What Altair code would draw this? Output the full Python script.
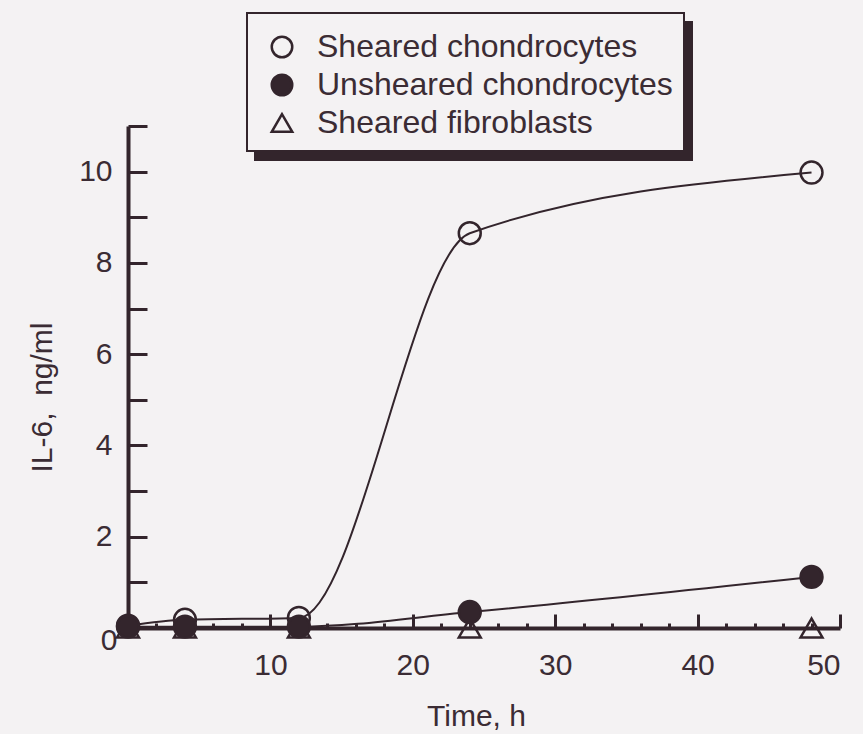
import altair as alt
import pandas as pd

# ---- data ----
time_h = [0, 4, 12, 24, 48]
sheared_chondro = [0.05, 0.18, 0.22, 8.65, 9.98]
unsheared_chondro = [0.03, 0.03, 0.03, 0.35, 1.12]
sheared_fibro = [0.0, 0.0, 0.0, 0.0, 0.0]
series_names = ["Sheared chondrocytes", "Unsheared chondrocytes", "Sheared fibroblasts"]
x_label_values = [10, 20, 30, 40, 50]
x_tick_values = [2, 4, 6, 8, 10, 12, 14, 16, 18, 20, 22, 24, 26, 28, 30,
                 32, 34, 36, 38, 40, 42, 44, 46, 48, 50]
y_label_values = [0, 2, 4, 6, 8, 10]
y_tick_values = [1, 2, 3, 4, 5, 6, 7, 8, 9, 10, 11]

rows = []
for name, vals in [(series_names[2], sheared_fibro),
                   (series_names[0], sheared_chondro),
                   (series_names[1], unsheared_chondro)]:
    for t, v in zip(time_h, vals):
        rows.append({"time": t, "il6": v, "series": name})
df = pd.DataFrame(rows)

BG = "#f4f2f3"
INK = "#33252c"
TXT = "#3b2c34"
F = "Liberation Sans"
W, H = 712, 502

xs = alt.Scale(domain=[0, 50], nice=False, zero=False)
ys = alt.Scale(domain=[0, 11], nice=False, zero=False)

box_df = pd.DataFrame([{"k": 1}])
shadow = alt.Chart(box_df).mark_rect(color=INK).encode(
    x=alt.value(126), x2=alt.value(565), y=alt.value(-105), y2=alt.value(35)
)
box = alt.Chart(box_df).mark_rect(fill=BG, stroke=INK, strokeWidth=2).encode(
    x=alt.value(119), x2=alt.value(556), y=alt.value(-113), y2=alt.value(25)
)

lines = alt.Chart(df).mark_line(interpolate="monotone", color=INK, strokeWidth=2).encode(
    x=alt.X("time:Q", scale=xs, axis=alt.Axis(
        orient="bottom", values=x_label_values, ticks=False, tickSize=0,
        domainWidth=4, domainColor=INK, grid=False,
        labelFontSize=30, labelFont=F, labelColor=TXT, labelPadding=22,
        title="Time, h", titleFontSize=30, titleFont=F, titleFontWeight="normal",
        titleColor=TXT, titleX=348, titleY=97, titleBaseline="alphabetic",
        titleAlign="center")),
    y=alt.Y("il6:Q", scale=ys, axis=alt.Axis(
        orient="left", values=y_label_values, ticks=False, tickSize=0,
        domainWidth=4, domainColor=INK, grid=False,
        labelFontSize=30, labelFont=F, labelColor=TXT,
        labelPadding={"condition": {"test": "datum.value === 0", "value": 11}, "value": 16},
        labelOffset={"condition": {"test": "datum.value === 0", "value": 12}, "value": 0},
        title="IL-6,\u00a0 ng/ml", titleFontSize=30, titleFont=F, titleFontWeight="normal",
        titleColor=TXT, titleAngle=-90, titleX=-77, titleY=271,
        titleBaseline="alphabetic", titleAlign="center")),
    detail="series:N",
)

leg = alt.Legend(title=None, orient="none", legendX=138, legendY=-95,
                 labelFontSize=32, labelFont=F, labelColor=TXT, labelLimit=600,
                 symbolSize=420, symbolStrokeWidth=2.5, symbolStrokeColor=INK,
                 rowPadding=6, labelOffset=19, padding=0)

points = alt.Chart(df).mark_point(size=480, strokeWidth=2.5, opacity=1).encode(
    x=alt.X("time:Q", scale=xs, axis=alt.Axis(
        orient="top", offset=-H, values=x_tick_values, labels=False, domain=False,
        grid=False, tickColor=INK, tickWidth=3,
        tickSize={"condition": {"test": "datum.value % 10 === 0", "value": 14}, "value": 5},
        title=None)),
    y=alt.Y("il6:Q", scale=ys, axis=alt.Axis(
        orient="right", offset=-W, values=y_tick_values, labels=False, domain=False,
        grid=False, tickColor=INK, tickWidth=3, tickSize=19, title=None)),
    fill=alt.Fill("series:N", scale=alt.Scale(domain=series_names,
                                              range=["transparent", INK, "transparent"]),
                  legend=leg),
    stroke=alt.Stroke("series:N", scale=alt.Scale(domain=series_names,
                                                  range=[INK, INK, INK]),
                      legend=leg),
    shape=alt.Shape("series:N", scale=alt.Scale(domain=series_names,
                                                range=["circle", "circle", "triangle-up"]),
                    legend=leg),
)

chart = alt.layer(shadow, box, lines, points).resolve_axis(
    x="independent", y="independent"
).properties(
    width=W, height=H, background=BG,
    padding={"left": 128, "top": 126, "right": 23, "bottom": 106},
    autosize=alt.AutoSizeParams(type="none"),
).configure_view(strokeWidth=0)

chart.save("out.html", embed_options={"renderer": "svg", "actions": False})
